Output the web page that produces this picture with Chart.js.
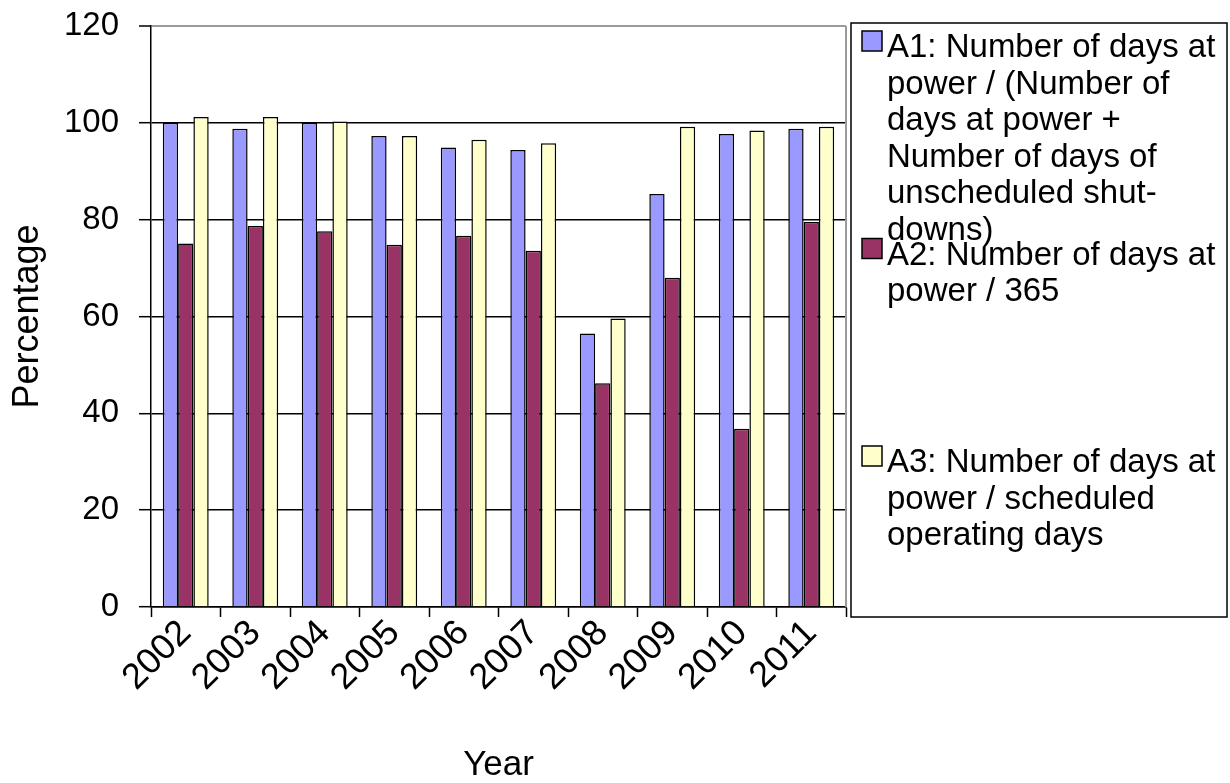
<!DOCTYPE html>
<html>
<head>
<meta charset="utf-8">
<title>Availability indicators 2002-2011</title>
<script src="https://cdn.jsdelivr.net/npm/chart.js@4"></script>
<style>
  html, body { margin: 0; padding: 0; background: #ffffff; }
  #wrap { position: relative; width: 1230px; height: 783px; }
</style>
</head>
<body>
<div id="wrap"><canvas id="chart"></canvas></div>
<script>
// Categories and series
const years = ['2002', '2003', '2004', '2005', '2006', '2007', '2008', '2009', '2010', '2011'];
const a1Values = [100.0, 98.8, 100.0, 97.3, 94.9, 94.4, 56.5, 85.3, 97.7, 98.8];
const a2Values = [75.1, 78.7, 77.6, 74.8, 76.7, 73.6, 46.2, 68.0, 36.8, 79.5];
const a3Values = [101.2, 101.2, 100.3, 97.3, 96.5, 95.8, 59.6, 99.2, 98.4, 99.2];

// Value axis ticks
const yTicks = [0, 20, 40, 60, 80, 100, 120];

// Legend wording, one entry per line
const a1Legend = ['A1: Number of days at', 'power / (Number of', 'days at power +', 'Number of days of', 'unscheduled shut-', 'downs)'];
const a2Legend = ['A2: Number of days at', 'power / 365'];
const a3Legend = ['A3: Number of days at', 'power / scheduled', 'operating days'];

const FONT = '"Liberation Sans", Arial, Helvetica, sans-serif';

// Right-hand frame of the plot and the boxed legend
const framePlugin = {
  id: 'frameAndLegend',
  afterDatasetsDraw(chart) {
    const { ctx, chartArea } = chart;
    ctx.save();
    ctx.strokeStyle = '#9a9a9a';
    ctx.lineWidth = 2;
    ctx.beginPath();
    ctx.moveTo(chartArea.right, chartArea.top);
    ctx.lineTo(chartArea.right, chartArea.bottom);
    ctx.stroke();
    ctx.restore();
  },
  afterDraw(chart) {
    const { ctx, chartArea } = chart;
    const left = chartArea.right + 5;
    const top = chartArea.top - 3;
    const right = chart.width - 3;
    const bottom = chartArea.bottom + 10;
    ctx.save();
    ctx.strokeStyle = '#000000';
    ctx.lineWidth = 1.5;
    ctx.strokeRect(left, top, right - left, bottom - top);

    const lineHeight = 36.6;
    const itemGap = 207.5;
    ctx.font = '33px ' + FONT;
    ctx.textBaseline = 'alphabetic';
    ctx.textAlign = 'left';
    chart.data.datasets.forEach((ds, i) => {
      const baseline = top + 34 + i * itemGap;
      ctx.fillStyle = ds.backgroundColor;
      ctx.fillRect(left + 11, baseline - 26, 20, 20);
      ctx.strokeStyle = '#000000';
      ctx.lineWidth = 1.5;
      ctx.strokeRect(left + 11, baseline - 26, 20, 20);
      ctx.fillStyle = '#000000';
      ds.legendLines.forEach((line, j) => {
        ctx.fillText(line, left + 36, baseline + j * lineHeight);
      });
    });
    ctx.restore();
  }
};

const makeSet = (lines, values, color) => ({
  label: lines.join(' '),
  legendLines: lines,
  data: values,
  backgroundColor: color,
  borderColor: '#000000',
  borderWidth: 1.5,
  categoryPercentage: 0.66,
  barPercentage: 1.0
});

new Chart(document.getElementById('chart'), {
  type: 'bar',
  data: {
    labels: years,
    datasets: [
      makeSet(a1Legend, a1Values, '#9999ff'),
      makeSet(a2Legend, a2Values, '#993366'),
      makeSet(a3Legend, a3Values, '#ffffcc')
    ]
  },
  options: {
    responsive: true,
    maintainAspectRatio: false,
    animation: false,
    devicePixelRatio: 1,
    layout: { padding: { left: 0, right: 384, top: 26, bottom: 0 } },
    plugins: {
      legend: { display: false },
      tooltip: { enabled: false }
    },
    scales: {
      x: {
        offset: true,
        grid: {
          offset: true,
          drawOnChartArea: false,
          drawTicks: true,
          tickLength: 10,
          tickColor: '#000000',
          tickWidth: 1.5
        },
        border: { display: true, color: '#000000', width: 1.5 },
        ticks: {
          color: '#000000',
          font: { family: FONT, size: 36 },
          minRotation: 45,
          maxRotation: 45,
          padding: -5,
          autoSkip: false
        },
        title: {
          display: true,
          text: 'Year',
          color: '#000000',
          font: { family: FONT, size: 35, lineHeight: 1.0 },
          padding: { top: 0, bottom: 0 }
        },
        afterFit(scale) {
          scale.height = 176;
          scale.paddingLeft = 0;
          scale.paddingRight = 0;
        }
      },
      y: {
        min: 0,
        max: 120,
        afterBuildTicks(scale) { scale.ticks = yTicks.map(v => ({ value: v })); },
        grid: {
          color: ctx => (ctx.tick && ctx.tick.value === 120 ? '#9a9a9a' : '#000000'),
          lineWidth: ctx => (ctx.tick && ctx.tick.value === 120 ? 2 : 1.4),
          tickColor: '#000000',
          tickWidth: 1.5,
          tickLength: 12,
          drawTicks: true
        },
        border: { display: true, color: '#000000', width: 1.5 },
        ticks: {
          color: '#000000',
          font: { family: FONT, size: 33 },
          padding: 20
        },
        title: {
          display: true,
          text: 'Percentage',
          color: '#000000',
          font: { family: FONT, size: 36, lineHeight: 1.0 },
          padding: { top: 10, bottom: 0 }
        },
        afterFit(scale) {
          scale.width = 151;
          scale.paddingTop = 0;
          scale.paddingBottom = 0;
        }
      }
    }
  },
  plugins: [framePlugin]
});
</script>
</body>
</html>
